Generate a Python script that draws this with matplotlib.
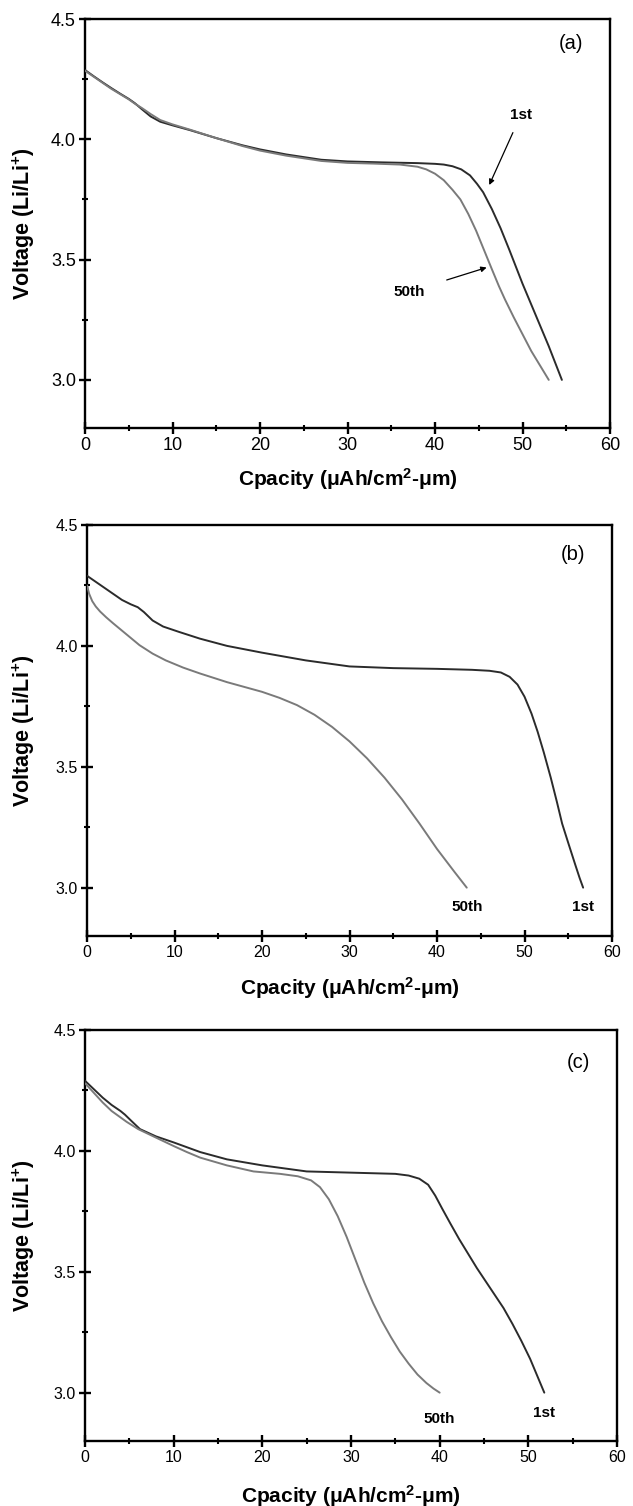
import matplotlib
matplotlib.use("Agg")
import matplotlib.pyplot as plt
from matplotlib.ticker import MultipleLocator, FormatStrFormatter

plt.rcParams['font.family'] = ['Liberation Sans', 'DejaVu Sans']
plt.rcParams['mathtext.default'] = 'regular'

# ---- discharge data: capacity (uAh/cm2-um) vs voltage (V) ----
# panel (a)
a_cap_1st = [0, 1, 2, 3, 4, 5, 5.7, 6.5, 7.5, 8.6, 10, 12, 15, 18, 20, 23, 27, 30, 34, 38, 40,
             41, 42, 43, 44, 44.8, 45.5, 46.5, 47.5, 48.5, 50, 51.5, 53, 54.5]
a_volt_1st = [4.288, 4.262, 4.237, 4.213, 4.19, 4.168, 4.15, 4.125, 4.095, 4.073, 4.058, 4.038,
              4.005, 3.975, 3.958, 3.937, 3.915, 3.908, 3.904, 3.901, 3.898, 3.895, 3.888,
              3.875, 3.85, 3.815, 3.78, 3.71, 3.63, 3.54, 3.40, 3.27, 3.14, 3.0]
a_cap_50th = [0, 1, 2, 3, 4, 5, 5.7, 6.5, 7.5, 8.6, 10, 12, 15, 18, 20, 23, 27, 30, 33, 36, 38,
              39, 40, 41, 42, 42.9, 43.8, 44.7, 45.6, 46.5, 47.3, 48, 49, 50, 51, 52, 53]
a_volt_50th = [4.285, 4.26, 4.235, 4.21, 4.188, 4.166, 4.148, 4.13, 4.105, 4.08, 4.062, 4.04,
               4.005, 3.972, 3.953, 3.932, 3.91, 3.902, 3.899, 3.895, 3.886, 3.875, 3.857,
               3.83, 3.79, 3.75, 3.69, 3.62, 3.54, 3.46, 3.39, 3.334, 3.26, 3.19, 3.12, 3.06,
               3.0]

# panel (b)
b_cap_1st = [0, 1, 2, 3, 4, 5, 5.8, 6.5, 7.5, 8.7, 10.5, 12.9, 16, 20, 25, 30, 35, 40, 44, 46,
             47.3, 48.3, 49.2, 50, 50.8, 51.5, 52.2, 53, 53.7, 54.3, 55, 55.8, 56.3, 56.7]
b_volt_1st = [4.29, 4.265, 4.24, 4.215, 4.19, 4.172, 4.16, 4.14, 4.105, 4.08, 4.058, 4.03, 4.0,
              3.972, 3.94, 3.915, 3.908, 3.905, 3.901, 3.897, 3.89, 3.872, 3.84, 3.79, 3.72,
              3.645, 3.56, 3.455, 3.355, 3.265, 3.185, 3.095, 3.04, 3.0]
b_cap_50th = [0, 0.25, 0.6, 1.0, 1.5, 2.2, 3, 4, 5, 6, 7.5, 9, 11, 12.9, 16, 20, 22, 24, 26, 28,
              30, 32, 34, 36, 38, 40, 42, 43.4]
b_volt_50th = [4.25, 4.215, 4.185, 4.163, 4.142, 4.118, 4.093, 4.063, 4.033, 4.003, 3.968,
               3.94, 3.91, 3.886, 3.85, 3.81, 3.785, 3.755, 3.715, 3.665, 3.605, 3.535, 3.455,
               3.365, 3.265, 3.16, 3.065, 3.0]

# panel (c)
c_cap_1st = [0, 1, 2, 3, 4, 4.5, 5.2, 6.2, 8, 10, 13, 16, 20, 25, 30, 35, 36.5, 37.7, 38.7,
             39.5, 40.3, 41.2, 42.2, 43.2, 44.2, 45.2, 46.2, 47.2, 48.2, 49.2, 50.2, 51, 51.8]
c_volt_1st = [4.29, 4.255, 4.22, 4.19, 4.165, 4.15, 4.125, 4.09, 4.06, 4.035, 3.995, 3.965,
              3.94, 3.915, 3.91, 3.905, 3.898, 3.885, 3.86, 3.815, 3.76, 3.70, 3.635, 3.575,
              3.515, 3.46, 3.405, 3.35, 3.285, 3.215, 3.14, 3.07, 3.0]
c_cap_50th = [0, 1, 2, 3, 4.7, 6, 8, 10, 11.5, 13, 16, 19, 22, 24, 25.5, 26.5, 27.5, 28.5,
              29.5, 30.5, 31.5, 32.5, 33.5, 34.5, 35.5, 36.5, 37.5, 38.5, 39.3, 40]
c_volt_50th = [4.28, 4.24, 4.2, 4.165, 4.12, 4.09, 4.055, 4.02, 3.995, 3.972, 3.94, 3.915,
               3.905, 3.895, 3.878, 3.85, 3.80, 3.73, 3.645, 3.55, 3.455, 3.37, 3.295, 3.23,
               3.17, 3.12, 3.075, 3.04, 3.017, 3.0]

panel_tags = ['(a)', '(b)', '(c)']
cycle_names = ['1st', '50th']

COL_1ST = '#2b2b2b'
COL_50TH = '#7a7a7a'

FIG_W, FIG_H = 633, 1506
fig = plt.figure(figsize=(FIG_W / 100, FIG_H / 100), dpi=100)

# axes boxes in pixels: left, top, right, bottom
boxes_px = [(85, 19, 610, 428), (87, 525, 612, 936), (85, 1030, 617, 1441)]
tick_sizes = [13, 11.5, 11.5]
xlabel_pads = [9, 11, 13]
ylabel_right_px = 37

series = [
    (a_cap_1st, a_volt_1st, a_cap_50th, a_volt_50th),
    (b_cap_1st, b_volt_1st, b_cap_50th, b_volt_50th),
    (c_cap_1st, c_volt_1st, c_cap_50th, c_volt_50th),
]
tag_volts = [4.40, 4.38, 4.365]

axes = []
for i, (l, t, r, b) in enumerate(boxes_px):
    ax = fig.add_axes([l / FIG_W, 1 - b / FIG_H, (r - l) / FIG_W, (b - t) / FIG_H])
    axes.append(ax)
    x1, y1, x50, y50 = series[i]
    ax.plot(x1, y1, color=COL_1ST, lw=1.4, solid_capstyle='round',
            solid_joinstyle='round', zorder=3)
    ax.plot(x50, y50, color=COL_50TH, lw=1.4, solid_capstyle='round',
            solid_joinstyle='round', zorder=4)

    ax.set_xlim(0, 60)
    ax.set_ylim(2.8, 4.5)
    ax.xaxis.set_major_locator(MultipleLocator(10))
    ax.xaxis.set_minor_locator(MultipleLocator(5))
    ax.yaxis.set_major_locator(MultipleLocator(0.5))
    ax.yaxis.set_minor_locator(MultipleLocator(0.25))
    ax.set_yticks([3.0, 3.5, 4.0, 4.5])
    ax.yaxis.set_major_formatter(FormatStrFormatter('%.1f'))

    for sp in ax.spines.values():
        sp.set_linewidth(1.7)
    ax.tick_params(which='major', direction='inout', length=9, width=1.7,
                   labelsize=tick_sizes[i], pad=2, top=False, right=False)
    ax.tick_params(which='minor', direction='inout', length=5, width=1.5,
                   top=False, right=False)

    ax.set_xlabel('Cpacity (\u03bcAh/cm$^2$-\u03bcm)', fontsize=15, fontweight='bold',
                  labelpad=xlabel_pads[i])
    ax.set_ylabel('Voltage (Li/Li$^{+}$)', fontsize=15.5, fontweight='bold')
    ax.yaxis.set_label_coords((ylabel_right_px - l) / (r - l), 0.5)

    ax.text(55.6, tag_volts[i], panel_tags[i], fontsize=14.5, ha='center', va='center')

# panel (a): arrows pointing to the curves
ax = axes[0]
ax.annotate(cycle_names[0], xy=(46.2, 3.81), xytext=(49.8, 4.10),
            fontsize=11, fontweight='bold', ha='center', va='center',
            arrowprops=dict(arrowstyle='-|>', color='black', lw=0.9,
                            mutation_scale=8, shrinkA=6, shrinkB=0))
ax.annotate(cycle_names[1], xy=(45.9, 3.467), xytext=(37.1, 3.367),
            fontsize=11, fontweight='bold', ha='center', va='center',
            arrowprops=dict(arrowstyle='-|>', color='black', lw=0.9,
                            mutation_scale=8, shrinkA=14, shrinkB=0))

# panels (b) and (c): labels under the curve ends
ax = axes[1]
ax.text(b_cap_50th[-1], 2.92, cycle_names[1], fontsize=11, fontweight='bold',
        ha='center', va='center')
ax.text(b_cap_1st[-1], 2.92, cycle_names[0], fontsize=11, fontweight='bold',
        ha='center', va='center')
ax = axes[2]
ax.text(c_cap_50th[-1], 2.89, cycle_names[1], fontsize=11, fontweight='bold',
        ha='center', va='center')
ax.text(c_cap_1st[-1], 2.915, cycle_names[0], fontsize=11, fontweight='bold',
        ha='center', va='center')

fig.savefig('out.png', dpi=100)
